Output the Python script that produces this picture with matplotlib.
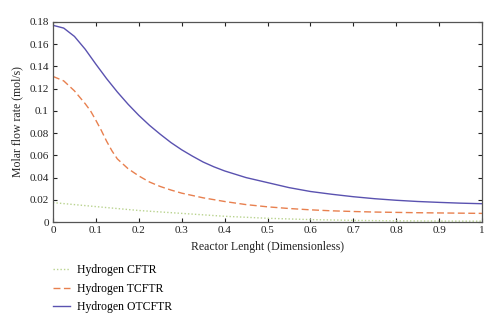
import matplotlib
matplotlib.use("Agg")

import matplotlib.pyplot as plt

# Reactor length (dimensionless) sample points and read-off flow rates
x_blue = [0, 0.025, 0.05, 0.075, 0.1, 0.125, 0.15, 0.175, 0.2, 0.225, 0.25,
          0.275, 0.3, 0.325, 0.35, 0.375, 0.4, 0.45, 0.5, 0.55, 0.6, 0.65,
          0.7, 0.75, 0.8, 0.85, 0.9, 0.95, 1.0]
h2_otcftr = [0.177, 0.1745, 0.167, 0.1555, 0.142, 0.129, 0.117, 0.106,
             0.096, 0.087, 0.079, 0.0715, 0.065, 0.0593, 0.054, 0.0497,
             0.046, 0.040, 0.0355, 0.031, 0.0275, 0.025, 0.0228, 0.021,
             0.0196, 0.0185, 0.0177, 0.017, 0.0165]

x_orange = [0, 0.025, 0.05, 0.075, 0.0875, 0.1, 0.1125, 0.125, 0.1375, 0.15,
            0.175, 0.2, 0.225, 0.25, 0.275, 0.3, 0.35, 0.4, 0.45, 0.5, 0.55,
            0.6, 0.65, 0.7, 0.75, 0.8, 0.85, 0.9, 0.95, 1.0]
h2_tcftr = [0.131, 0.127, 0.118, 0.1065, 0.1, 0.0915, 0.0825, 0.0727, 0.064,
            0.0568, 0.048, 0.0415, 0.036, 0.032, 0.0288, 0.026, 0.0218,
            0.0185, 0.0157, 0.0137, 0.0122, 0.011, 0.0101, 0.0095, 0.009,
            0.0087, 0.0084, 0.0082, 0.008, 0.0078]

x_green = [0, 0.1, 0.2, 0.3, 0.4, 0.5, 0.6, 0.7, 0.8, 0.9, 1.0]
h2_cftr = [0.0175, 0.0139, 0.0104, 0.0078, 0.0052, 0.0034, 0.0022, 0.0015,
           0.0011, 0.0009, 0.0008]

plt.rcParams["font.family"] = ["Liberation Serif", "DejaVu Serif"]

fig = plt.figure(figsize=(5, 3.28), dpi=100)
ax = fig.add_axes([0.106, 0.323, 0.858, 0.610])

l1, = ax.plot(x_green, h2_cftr, ls=(0, (1, 1.5)), color="#b9d38f", lw=1.0,
              label="Hydrogen CFTR")
l2, = ax.plot(x_orange, h2_tcftr, ls=(0, (5, 2.5)), color="#e8804f", lw=1.0,
              label="Hydrogen TCFTR")
l3, = ax.plot(x_blue, h2_otcftr, ls="-", color="#5a52b0", lw=1.0,
              label="Hydrogen OTCFTR")

ax.set_xlim(0, 1)
ax.set_ylim(0, 0.18)
ax.set_xticks([i / 10 for i in range(11)])
ax.set_xticklabels(["0", "0.1", "0.2", "0.3", "0.4", "0.5", "0.6", "0.7",
                    "0.8", "0.9", "1"])
ax.set_yticks([i * 0.02 for i in range(10)])
ax.set_yticklabels(["0", "0.02", "0.04", "0.06", "0.08", "0.1", "0.12",
                    "0.14", "0.16", "0.18"])
ax.tick_params(direction="in", top=True, right=True, length=3, width=0.8,
               labelsize=8, colors="#222222", pad=3)
for s in ax.spines.values():
    s.set_color("#555555")
    s.set_linewidth(0.9)

ax.set_xlabel("Reactor Lenght (Dimensionless)", fontsize=8.5, color="#222222",
              labelpad=4)
ax.set_ylabel("Molar flow rate (mol/s)", fontsize=8.5, color="#222222",
              labelpad=4)

fig.legend(handles=[l1, l2, l3], loc="upper left",
           bbox_to_anchor=(0.096, 0.209), frameon=False, fontsize=8.5,
           handlelength=1.45, handletextpad=0.6, labelspacing=0.55,
           borderaxespad=0)

fig.savefig("out.png", dpi=100)
plt.close(fig)
